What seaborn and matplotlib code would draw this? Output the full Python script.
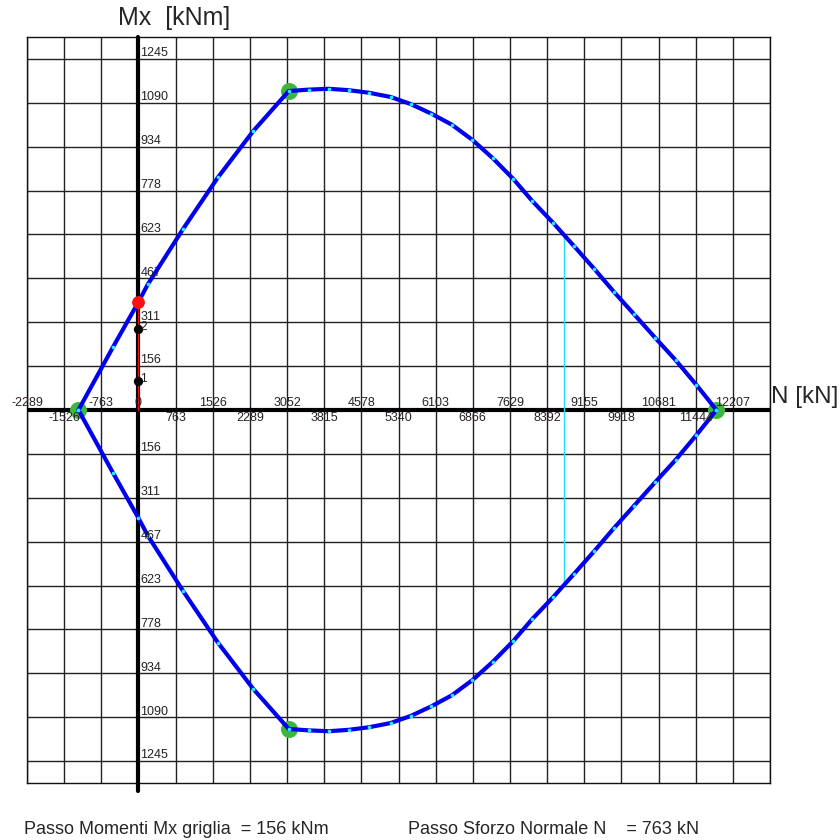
import numpy as np
import pandas as pd
import matplotlib
matplotlib.use('Agg')
import matplotlib.pyplot as plt
import seaborn as sns

sns.set_style('white')
plt.rcParams['font.family'] = ['Liberation Sans', 'DejaVu Sans']

# passo griglia
N_STEP = 763
M_STEP = 155.6

# dominio di resistenza, ramo superiore (N kN, Mx kNm), da sinistra a destra
n_up = [-1232, -526, 0, 194, 913, 1633, 2353, 3087, 3499, 3910, 4321, 4732,
        5178, 5590, 6013, 6433, 6857, 7283, 7700, 8089, 8515, 8947, 9359,
        9770, 10182, 10608, 11032, 11459, 11871]
m_up = [0, 222, 383, 446, 641, 825, 988, 1131, 1136, 1139, 1134, 1125,
        1110, 1085, 1051, 1012, 958, 892, 819, 741, 664, 581, 501,
        418, 339, 257, 177, 89, 0]

# vertici principali (punti verdi)
vert_n = [-1232, 3087, 11871, 3087]
vert_m = [0, 1131, 0, -1131]

# punto di verifica e punti di carico
red_n, red_m = [0], [383]
load_n = [0, 0]
load_m = [288, 104]
load_lbl = ['2', '1']

# linea ciano
cyan_n = 8743
cyan_m = [-625, 625]

# etichette assi
n_labels = ['-2289', '-1526', '-763', '0', '763', '1526', '2289', '3052', '3815',
            '4578', '5340', '6103', '6866', '7629', '8392', '9155', '9918',
            '10681', '11444', '12207']
m_labels = ['156', '311', '467', '623', '778', '934', '1090', '1245']

# costruzione del poligono chiuso
dom = pd.DataFrame({
    'N': n_up + n_up[::-1],
    'M': m_up + [-v for v in m_up[::-1]],
})

fig = plt.figure(figsize=(8.4, 8.4), dpi=100)
ax = fig.add_axes([27 / 840, 57 / 840, 743 / 840, 746 / 840])

xlo, xhi = -3 * N_STEP, 17 * N_STEP
ylo, yhi = -8.5 * M_STEP, 8.5 * M_STEP
ax.set_xlim(xlo, xhi)
ax.set_ylim(ylo, yhi)

# griglia
ax.set_xticks([i * N_STEP for i in range(-3, 18)])
ax.set_yticks([j * M_STEP for j in range(-8, 9)])
ax.grid(True, color='#222222', lw=1.0)
ax.tick_params(length=0, labelbottom=False, labelleft=False)
for s in ax.spines.values():
    s.set_color('#111111')
    s.set_linewidth(1.0)

# assi principali
ax.axhline(0, color='black', lw=3, zorder=3)
ax.plot([0, 0], [ylo - 28, yhi], color='black', lw=3, clip_on=False, zorder=3)

# linea ciano
ax.plot([cyan_n, cyan_n], cyan_m, color='#22e0ee', lw=1.0, zorder=3)

# punti verdi
sns.scatterplot(x=vert_n, y=vert_m, color='#3cb83c', s=150, linewidth=0,
                ax=ax, zorder=4)

# dominio
sns.lineplot(data=dom, x='N', y='M', sort=False, estimator=None,
             color='#0000ee', lw=3, ax=ax, zorder=5)
sns.scatterplot(data=dom, x='N', y='M', color='#22eeff', s=7, linewidth=0,
                ax=ax, zorder=6)

# sollecitazione
ax.plot([0, 0], [0, red_m[0]], color='#ee1111', lw=1.0, zorder=6)
sns.scatterplot(x=load_n, y=load_m, color='black', s=45, linewidth=0,
                ax=ax, zorder=7)
sns.scatterplot(x=red_n, y=red_m, color='#ff1010', s=85, linewidth=0,
                ax=ax, zorder=7)
for n, m, t in zip(load_n, load_m, load_lbl):
    ax.text(n + 40, m + 5, t, fontsize=8.5, va='center', color='#222222', zorder=8)

# etichette N alternate sopra/sotto
for k, lbl in enumerate(n_labels):
    i = k - 3
    up = (i % 2 == 0) if i >= 0 else (i % 2 == 1)
    ax.text(i * N_STEP, 25 if up else -28, lbl, ha='center', va='center',
            fontsize=9, color='#2a1f2a', zorder=8)

# etichette Mx (positive e negative senza segno)
for j, lbl in enumerate(m_labels, start=1):
    for sgn in (1, -1):
        ax.text(40, sgn * j * M_STEP + 20, lbl, ha='left', va='center',
                fontsize=9, color='#222222', zorder=8)

ax.set_xlabel('')
ax.set_ylabel('')
fig.text(118 / 840, 1 - 18 / 840, 'Mx  [kNm]', fontsize=18, va='center', ha='left')
fig.text(771 / 840, 1 - 397 / 840, 'N [kN]', fontsize=17.5, va='center', ha='left')

fig.text(24 / 840, 1 - 830 / 840, 'Passo Momenti Mx griglia  = 156 kNm',
         fontsize=13, va='center', ha='left')
fig.text(408 / 840, 1 - 830 / 840, 'Passo Sforzo Normale N    = 763 kN',
         fontsize=13, va='center', ha='left')

fig.savefig('out.png', dpi=100)
